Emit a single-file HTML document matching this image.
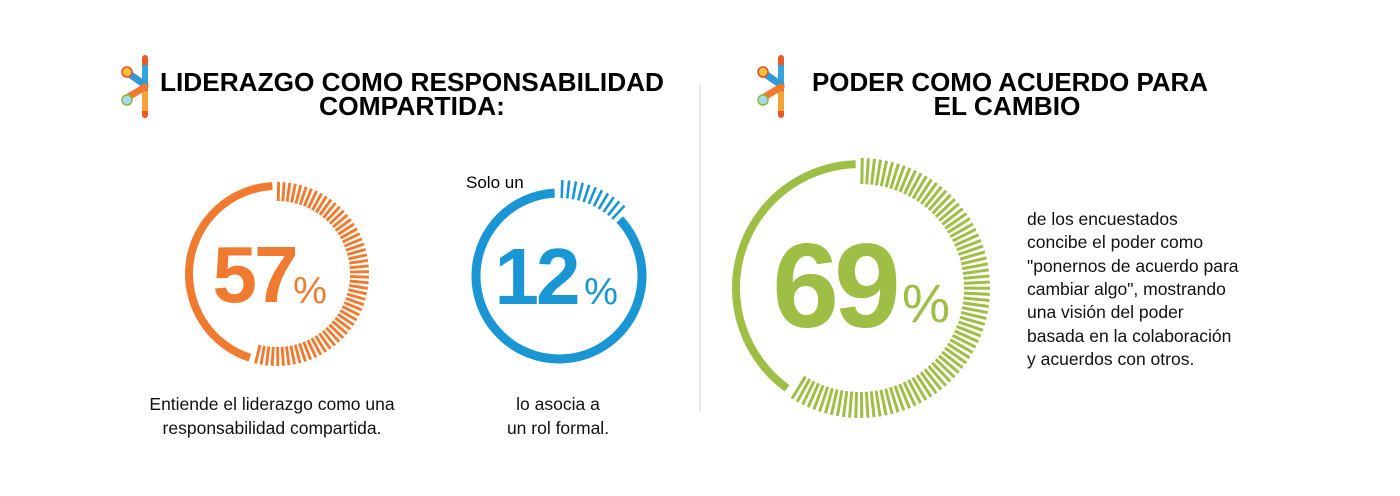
<!DOCTYPE html>
<html><head><meta charset="utf-8"><style>
html,body{margin:0;padding:0;background:#fff;width:1400px;height:496px;overflow:hidden}
svg{display:block}
text{font-family:"Liberation Sans",Arial,sans-serif}
</style></head><body>
<svg id="s" width="1400" height="496" viewBox="0 0 1400 496" xmlns="http://www.w3.org/2000/svg">
<defs>
<g id="logo">
  <line x1="24" y1="3" x2="24" y2="60" stroke="#e85a2a" stroke-width="6" stroke-linecap="round"/>
  <line x1="24" y1="10" x2="24" y2="32" stroke="#35a4dc" stroke-width="6"/>
  <line x1="24" y1="36" x2="24" y2="56" stroke="#f2a43a" stroke-width="6"/>
  <line x1="4" y1="16" x2="24" y2="30" stroke="#2f9ad6" stroke-width="7" stroke-linecap="round"/>
  <circle cx="6" cy="17" r="5" fill="#f5c03a" stroke="#e0502a" stroke-width="1.5"/>
  <line x1="4" y1="44" x2="24" y2="32" stroke="#f07a30" stroke-width="7" stroke-linecap="round"/>
  <circle cx="6" cy="45" r="5" fill="#a9d7ee" stroke="#8ab83f" stroke-width="1.5"/>
</g>
</defs>
<use href="#logo" x="121" y="55"/>
<use href="#logo" x="757" y="55"/>
<text x="412" y="91" font-size="26" font-weight="bold" text-anchor="middle" textLength="504" lengthAdjust="spacingAndGlyphs">LIDERAZGO COMO RESPONSABILIDAD</text>
<text x="412" y="115" font-size="26" font-weight="bold" text-anchor="middle" textLength="186" lengthAdjust="spacingAndGlyphs">COMPARTIDA:</text>
<text x="1010" y="91" font-size="26" font-weight="bold" text-anchor="middle" textLength="396" lengthAdjust="spacingAndGlyphs">PODER COMO ACUERDO PARA</text>
<text x="1007" y="115" font-size="26" font-weight="bold" text-anchor="middle" textLength="147" lengthAdjust="spacingAndGlyphs">EL CAMBIO</text>
<line x1="700" y1="85" x2="700" y2="412" stroke="#cfcfcf" stroke-width="1"/>

<g id="rings"></g>

<text x="254" y="302" font-size="80" font-weight="bold" fill="#f07a30" text-anchor="middle" letter-spacing="-3">57</text>
<text x="310" y="303" font-size="38" fill="#f07a30" text-anchor="middle">%</text>
<text x="536" y="304" font-size="80" font-weight="bold" fill="#1a96d4" text-anchor="middle" letter-spacing="-3">12</text>
<text x="601" y="304" font-size="38" fill="#1a96d4" text-anchor="middle">%</text>
<text x="834" y="327" font-size="120" font-weight="bold" fill="#9fbe45" text-anchor="middle" letter-spacing="-5">69</text>
<text x="926" y="322" font-size="54" fill="#9fbe45" text-anchor="middle">%</text>

<text x="466" y="188" font-size="17">Solo un</text>
<g font-size="17.5" text-anchor="middle" fill="#111">
<text x="272" y="410">Entiende el liderazgo como una</text>
<text x="272" y="434">responsabilidad compartida.</text>
<text x="558" y="410">lo asocia a</text>
<text x="558" y="434">un rol formal.</text>
</g>
<g font-size="17.5" fill="#111">
<text x="1027" y="225">de los encuestados</text>
<text x="1027" y="248">concibe el poder como</text>
<text x="1027" y="272">"ponernos de acuerdo para</text>
<text x="1027" y="295">cambiar algo", mostrando</text>
<text x="1027" y="318">una visión del poder</text>
<text x="1027" y="342">basada en la colaboración</text>
<text x="1027" y="365">y acuerdos con otros.</text>
</g>
</svg>
<script>
var NS="http://www.w3.org/2000/svg",g=document.getElementById("rings");
function rad(a){return a*Math.PI/180}
function arc(cx,cy,r,a0,a1,w,col){
  var p=document.createElementNS(NS,"path");
  var x0=cx+r*Math.cos(rad(a0)),y0=cy+r*Math.sin(rad(a0)),x1=cx+r*Math.cos(rad(a1)),y1=cy+r*Math.sin(rad(a1));
  var large=(a1-a0)>180?1:0;
  p.setAttribute("d","M"+x0+" "+y0+" A"+r+" "+r+" 0 "+large+" 1 "+x1+" "+y1);
  p.setAttribute("fill","none");p.setAttribute("stroke",col);p.setAttribute("stroke-width",w);
  g.appendChild(p);
}
function ticks(cx,cy,r0,r1,a0,a1,step,w,col){
  for(var a=a0;a<=a1+0.01;a+=step){
    var l=document.createElementNS(NS,"line");
    l.setAttribute("x1",cx+r0*Math.cos(rad(a)));l.setAttribute("y1",cy+r0*Math.sin(rad(a)));
    l.setAttribute("x2",cx+r1*Math.cos(rad(a)));l.setAttribute("y2",cy+r1*Math.sin(rad(a)));
    l.setAttribute("stroke",col);l.setAttribute("stroke-width",w);
    g.appendChild(l);
  }
}
arc(277,274,88,108,267,8,"#f07a30");
ticks(277,274,73,92,-89,105,3.5,2.9,"#f07a30");
arc(559,276,83,-43,267,9,"#1a96d4");
ticks(559,276,78,96,-88,-47,4.1,2.6,"#1a96d4");
arc(860,288,124,126,268,8,"#9fbe45");
ticks(860,288,104,130,-89,123,2.7,3,"#9fbe45");
</script>
</body></html>
